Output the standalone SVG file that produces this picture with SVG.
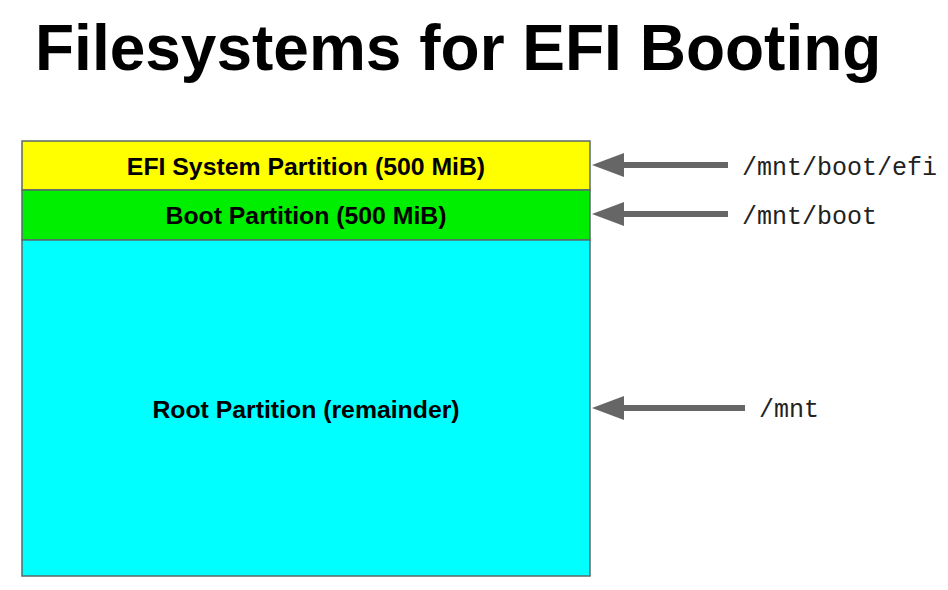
<svg xmlns="http://www.w3.org/2000/svg" width="948" height="590" viewBox="0 0 948 590">
<style>
.lbl{font-family:"Liberation Sans",Arial,sans-serif;font-weight:bold;font-size:24.8px;fill:#000;text-anchor:middle}
.mono{font-family:"Liberation Mono","Courier New",monospace;font-size:25px;fill:#222}
.part{stroke:#5a6a6a;stroke-width:1.5}
.arr{stroke:#666;stroke-width:6;fill:none}
</style>
<defs>
<marker id="ah" markerUnits="userSpaceOnUse" markerWidth="34" markerHeight="26" refX="2" refY="13" orient="auto">
<path d="M0,1 L32,13 L0,25 Z" fill="#666"/>
</marker>
</defs>
<rect width="948" height="590" fill="#fff"/>
<text x="35" y="70" font-family="Liberation Sans,Arial,sans-serif" font-weight="bold" font-size="64" fill="#000">Filesystems for EFI Booting</text>
<g id="efi">
<rect class="part" x="22" y="141" width="568" height="49" fill="#ffff00"/>
<text class="lbl" x="306" y="175">EFI System Partition (500 MiB)</text>
</g>
<g id="boot">
<rect class="part" x="22" y="190" width="568" height="50" fill="#00ee00"/>
<text class="lbl" x="306" y="224">Boot Partition (500 MiB)</text>
</g>
<g id="root">
<rect class="part" x="22" y="240" width="568" height="336" fill="#00ffff"/>
<text class="lbl" x="306" y="418">Root Partition (remainder)</text>
</g>
<g id="connectors">
<line class="arr" x1="728" y1="165" x2="622" y2="165" marker-end="url(#ah)"/>
<line class="arr" x1="728" y1="214" x2="622" y2="214" marker-end="url(#ah)"/>
<line class="arr" x1="745" y1="408" x2="622" y2="408" marker-end="url(#ah)"/>
</g>
<g id="labels">
<text class="mono" x="742" y="175">/mnt/boot/efi</text>
<text class="mono" x="742" y="224">/mnt/boot</text>
<text class="mono" x="759" y="417">/mnt</text>
</g>
</svg>
